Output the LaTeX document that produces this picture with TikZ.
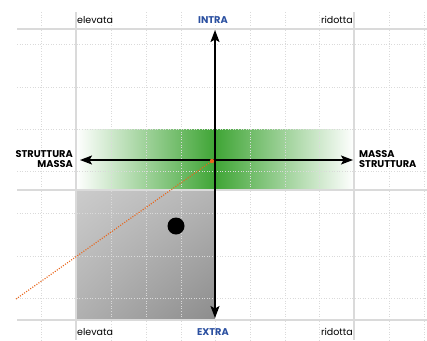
\documentclass[tikz,border=0pt]{standalone}
\usepackage{fontspec}
\setmainfont{Poppins}
\usetikzlibrary{arrows.meta}
\usetikzlibrary{shadings}
\definecolor{intrablue}{HTML}{2B50A0}
\definecolor{bandgreen}{HTML}{3FA535}
\definecolor{gridgray}{HTML}{DADADA}
\definecolor{lineorange}{HTML}{E8661C}
\tikzset{axis/.style = {line width=1.4pt,
                        {Stealth[length=12pt,width=9pt,inset=2.5pt]}-{Stealth[length=12pt,width=9pt,inset=2.5pt]}}}
\tikzset{gridline/.style = {gridgray, line width=0.9pt, dash pattern=on 1pt off 1.6pt}}
\tikzset{frameline/.style = {gridgray, line width=1.5pt}}
\tikzset{orangedots/.style = {lineorange, line width=1.2pt, dash pattern=on 1pt off 1.5pt}}
\tikzset{tag/.style = {inner sep=0, font=\fontsize{9.5}{11}\selectfont}}
\tikzset{pole/.style = {tag, text=intrablue, font=\fontsize{9.8}{11}\selectfont\bfseries}}
\tikzset{side/.style = {tag, font=\fontsize{9.8}{11}\selectfont\bfseries}}

\begin{document}
\begin{tikzpicture}[x=1pt,y=-1pt]
  \useasboundingbox (0,0) rectangle (427,340);

  % Shaded areas
  \shade[left color=white, right color=white, middle color=bandgreen] (76,129) rectangle (354,190);
  \shade[upper left=black!20, upper right=black!29, lower left=black!31, lower right=black!45] (76,190) rectangle (215,320);

  % Grid
  \foreach \x in {41,111,146,181,215,250,285,319,389,424}
    \draw[gridline] (\x,12) -- (\x,340);
  \foreach \y in {44,87,129,171,213,256,298}
    \draw[gridline] (17,\y) -- (427,\y);
  \foreach \x in {76,354}
    \draw[frameline] (\x,12) -- (\x,340);
  \foreach \y in {29,190,320}
    \draw[frameline] (17,\y) -- (427,\y);

  % Axes
  \coordinate (intra) at (215,30);
  \coordinate (extra) at (215,318);
  \coordinate (massaL) at (80,160);
  \coordinate (massaR) at (353,160);
  \coordinate (origin) at (212,161);
  \coordinate (tail) at (16,299);
  \draw[orangedots] (tail) -- (origin);
  \draw[axis] (extra) -- (intra);
  \draw[axis] (massaL) -- (massaR);
  \fill[lineorange] (origin) circle (2.2);
  \fill (176,226) circle (8.5);

  % Labels
  \node[tag, anchor=base west] (elevataT) at (77,23) {elevata};
  \node[pole, anchor=base] (intraT) at (213,23) {INTRA};
  \node[tag, anchor=base east] (ridottaT) at (353,23) {ridotta};
  \node[tag, anchor=base west] (elevataB) at (77,335) {elevata};
  \node[pole, anchor=base] (extraT) at (213,335) {EXTRA};
  \node[tag, anchor=base east] (ridottaB) at (353,335) {ridotta};
  \node[side, anchor=base east] (strutturaL) at (73,157) {STRUTTURA};
  \node[side, anchor=base east] (massaLT) at (73,167) {MASSA};
  \node[side, anchor=base west] (massaRT) at (359,157) {MASSA};
  \node[side, anchor=base west] (strutturaR) at (359,167) {STRUTTURA};
\end{tikzpicture}
\end{document}
